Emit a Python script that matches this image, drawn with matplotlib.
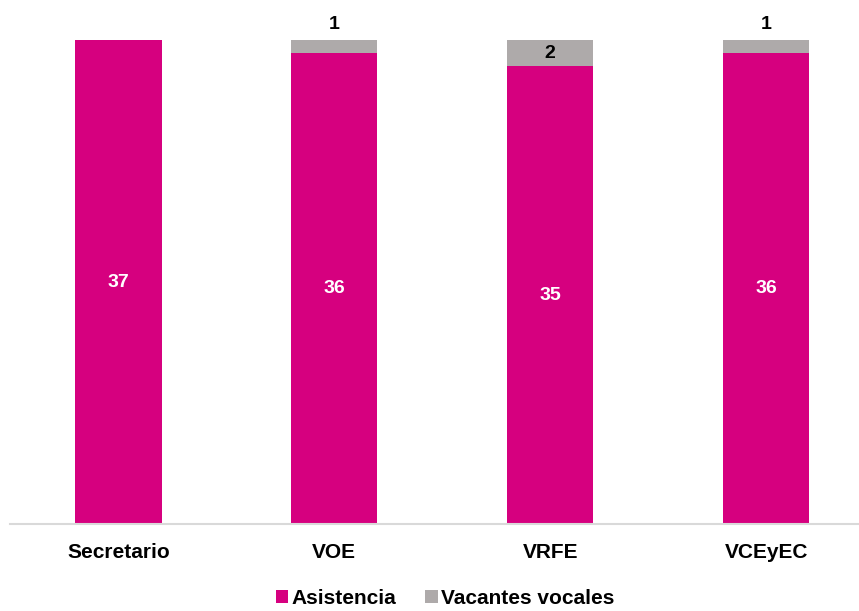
import matplotlib.pyplot as plt
import numpy as np

plt.rcParams["font.family"] = ["Liberation Sans", "DejaVu Sans"]
plt.rcParams["font.weight"] = "bold"

categories = ["Secretario", "VOE", "VRFE", "VCEyEC"]
asistencia = [37, 36, 35, 36]
vacantes = [0, 1, 2, 1]

magenta = "#D6007F"
gray = "#AEAAAA"

fig = plt.figure(figsize=(8.59, 6.11), dpi=100)
ax = fig.add_axes([10 / 859, 87 / 611, 849 / 859, 523 / 611])

x = np.arange(len(categories))
width = 0.4
ax.bar(x, asistencia, width, color=magenta, label="Asistencia")
ax.bar(x, vacantes, width, bottom=asistencia, color=gray, label="Vacantes vocales")

# labels
for xi, a, v in zip(x, asistencia, vacantes):
    ax.text(xi, a / 2, str(a), ha="center", va="center", color="white",
            fontsize=14, fontweight="bold")
    if v == 1:
        ax.text(xi, a + v + 0.55, str(v), ha="center", va="bottom", color="black",
                fontsize=14, fontweight="bold")
    elif v > 1:
        ax.text(xi, a + v / 2, str(v), ha="center", va="center", color="black",
                fontsize=14, fontweight="bold")

ax.set_ylim(0, 40)
ax.set_xlim(-0.502, 3.43)
ax.set_xticks(x)
ax.set_xticklabels(categories, fontsize=15, fontweight="bold")
ax.tick_params(axis="x", length=0, pad=14)
ax.set_yticks([])
for s in ["top", "right", "left"]:
    ax.spines[s].set_visible(False)
ax.spines["bottom"].set_color("#D9D9D9")
ax.spines["bottom"].set_linewidth(1.5)

leg = fig.legend(loc="center", bbox_to_anchor=(445 / 859, 1 - 598 / 611), ncol=2,
                 frameon=False, fontsize=15, handlelength=0.6, handleheight=0.6,
                 handletextpad=0.15, columnspacing=1.4)

fig.savefig("out.png", dpi=100)
